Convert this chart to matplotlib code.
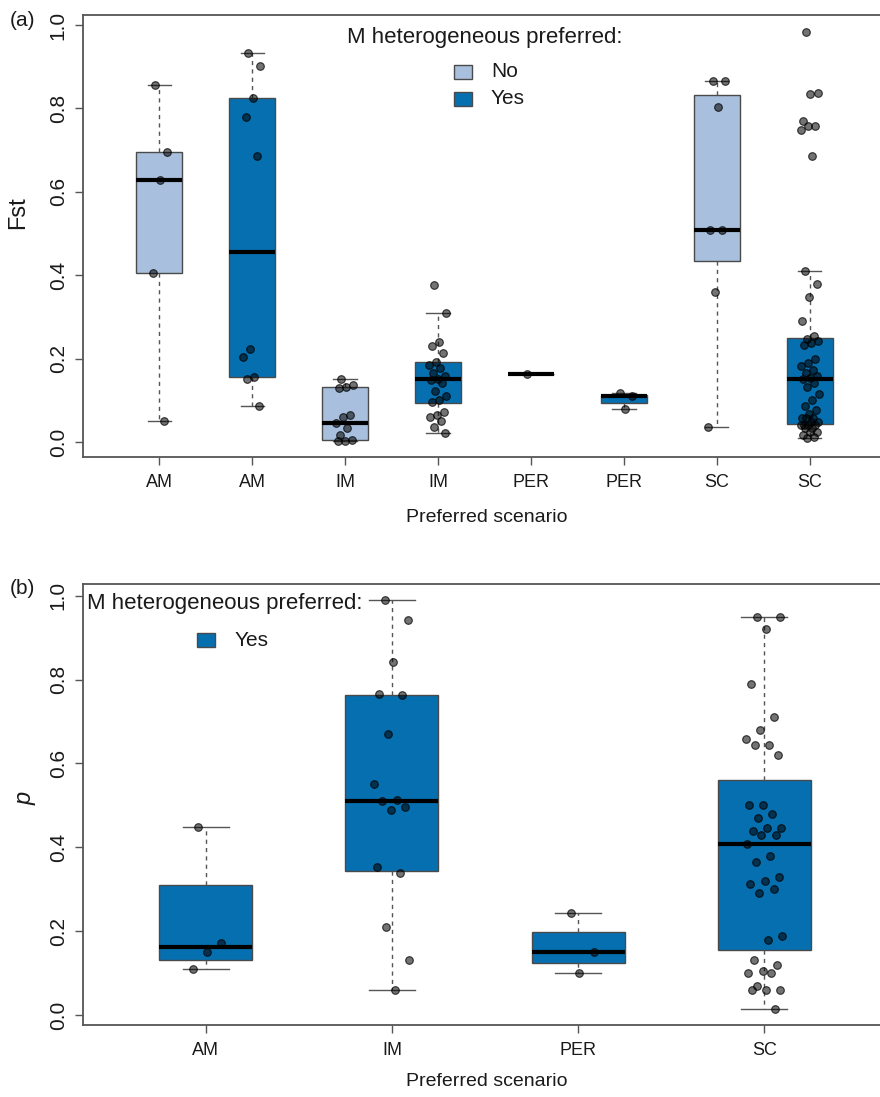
import numpy as np
import matplotlib
matplotlib.use("Agg")
import matplotlib.pyplot as plt
from matplotlib.patches import Rectangle

plt.rcParams['font.family'] = ['Liberation Sans', 'DejaVu Sans']

# Panel (a): Fst per preferred scenario, split by "M heterogeneous preferred"
groupsA = ["AM", "AM", "IM", "IM", "PER", "PER", "SC", "SC"]
hetA = ["No", "Yes", "No", "Yes", "No", "Yes", "No", "Yes"]

fstAmNo = [0.855, 0.696, 0.628, 0.406, 0.050]
fstAmYes = [0.932, 0.902, 0.826, 0.779, 0.687, 0.223, 0.205, 0.156, 0.152, 0.086]
fstImNo = [0.150, 0.137, 0.133, 0.129, 0.065, 0.059, 0.046, 0.034, 0.016, 0.005, 0.003, 0.002]
fstImYes = [0.377, 0.309, 0.239, 0.231, 0.213, 0.193, 0.185, 0.177, 0.165, 0.158, 0.152, 0.148,
            0.141, 0.123, 0.110, 0.100, 0.095, 0.071, 0.065, 0.060, 0.051, 0.037, 0.021]
fstPerNo = [0.162]
fstPerYes = [0.117, 0.110, 0.079]
fstScNo = [0.865, 0.865, 0.803, 0.509, 0.509, 0.359, 0.036]
fstScYes = [0.983, 0.838, 0.835, 0.769, 0.757, 0.757, 0.749, 0.687, 0.411, 0.378, 0.348, 0.290,
            0.254, 0.248, 0.243, 0.238, 0.232, 0.200, 0.189, 0.182, 0.173, 0.166, 0.158, 0.153,
            0.150, 0.141, 0.133, 0.115, 0.101, 0.086, 0.077, 0.066, 0.057, 0.057, 0.057, 0.049,
            0.049, 0.041, 0.041, 0.041, 0.041, 0.033, 0.033, 0.025, 0.025, 0.017, 0.012, 0.009]

# box stats: lower whisker, Q1, median, Q3, upper whisker
whisLoA = [0.050, 0.086, 0.002, 0.021, 0.162, 0.079, 0.036, 0.010]
q1A = [0.406, 0.156, 0.0055, 0.094, 0.162, 0.094, 0.435, 0.042]
medA = [0.628, 0.455, 0.046, 0.150, 0.162, 0.110, 0.509, 0.150]
q3A = [0.696, 0.826, 0.131, 0.191, 0.162, 0.113, 0.833, 0.249]
whisHiA = [0.855, 0.932, 0.150, 0.309, 0.162, 0.117, 0.865, 0.411]

# Panel (b): p, only "Yes"
groupsB = ["AM", "IM", "PER", "SC"]
pAm = [0.449, 0.171, 0.150, 0.110]
pIm = [0.989, 0.942, 0.841, 0.765, 0.763, 0.671, 0.551, 0.512, 0.510, 0.497, 0.489, 0.352,
       0.338, 0.209, 0.130, 0.060]
pPer = [0.244, 0.150, 0.100]
pSc = [0.950, 0.950, 0.920, 0.789, 0.710, 0.680, 0.659, 0.644, 0.644, 0.620, 0.500, 0.500,
       0.480, 0.469, 0.445, 0.445, 0.439, 0.430, 0.430, 0.407, 0.379, 0.366, 0.330, 0.320,
       0.313, 0.300, 0.290, 0.189, 0.179, 0.131, 0.119, 0.106, 0.099, 0.099, 0.070, 0.060,
       0.060, 0.060, 0.014]

whisLoB = [0.110, 0.060, 0.100, 0.014]
q1B = [0.130, 0.344, 0.125, 0.155]
medB = [0.161, 0.511, 0.150, 0.407]
q3B = [0.310, 0.764, 0.197, 0.560]
whisHiB = [0.449, 0.989, 0.244, 0.950]

colNo = "#a8bfdd"
colYes = "#056fb0"
edge = "#4a4a4a"
txt = "#1a1a1a"

W, H = 880, 1097


def fx(px):
    return px / W


def fy(py):
    return 1 - py / H


def drawPanel(ax, points, lo, q1, med, q3, hi, colors):
    stats = []
    for i in range(len(med)):
        stats.append(dict(whislo=lo[i], q1=q1[i], med=med[i], q3=q3[i], whishi=hi[i]))
    pos = np.arange(1, len(med) + 1)
    bp = ax.bxp(stats, positions=pos, widths=0.5, capwidths=0.25, patch_artist=True,
                showfliers=False,
                boxprops=dict(edgecolor=edge, linewidth=1.0),
                whiskerprops=dict(color="#555555", linewidth=1.0, linestyle=(0, (3, 3))),
                capprops=dict(color="#555555", linewidth=1.0),
                medianprops=dict(color="black", linewidth=3.0, solid_capstyle="butt"))
    for patch, c in zip(bp["boxes"], colors):
        patch.set_facecolor(c)
    # jittered points on top
    for i, vals in enumerate(points):
        n = len(vals)
        off = ((np.arange(n) * 0.618034 + 0.3) % 1 - 0.5) * 0.2
        ax.scatter(pos[i] + off, vals, s=30, facecolor=(0, 0, 0, 0.55),
                   edgecolor=(0, 0, 0, 0.75), linewidth=0.8, zorder=3)
    for s in ax.spines.values():
        s.set_color("#555555")
        s.set_linewidth(1.3)
    ax.set_yticks([0.0, 0.2, 0.4, 0.6, 0.8, 1.0])
    ax.set_yticklabels(["0.0", "0.2", "0.4", "0.6", "0.8", "1.0"], rotation=90, va="center")
    ax.tick_params(axis="y", length=6, width=1.0, color="#555555", labelsize=15,
                   labelcolor=txt, pad=5)
    ax.tick_params(axis="x", length=6, width=1.0, color="#555555", labelsize=13,
                   labelcolor=txt, pad=6)
    for lab in ax.get_xticklabels():
        lab.set_family(["Liberation Sans Narrow", "Liberation Sans"])


fig = plt.figure(figsize=(W / 100, H / 100), dpi=100)

# (a)
axA = fig.add_axes([fx(83), fy(457), fx(886) - fx(83), fy(15) - fy(457)])
colorsA = [colNo if h == "No" else colYes for h in hetA]
drawPanel(axA, [fstAmNo, fstAmYes, fstImNo, fstImYes, fstPerNo, fstPerYes, fstScNo, fstScYes],
          whisLoA, q1A, medA, q3A, whisHiA, colorsA)
axA.set_xlim(0.18, 8.82)
axA.set_ylim(-0.036, 1.024)
axA.set_xticks(np.arange(1, len(groupsA) + 1))
axA.set_xticklabels(groupsA, family=["Liberation Sans Narrow", "Liberation Sans"])

fig.text(fx(18), fy(213), "Fst", rotation=90, ha="center", va="center", fontsize=17, color=txt)
fig.text(fx(487), fy(518), "Preferred scenario", ha="center", va="center", fontsize=14,
         color=txt, family=["Liberation Sans Narrow", "Liberation Sans"])
fig.text(fx(22), fy(20), "(a)", ha="center", va="center", fontsize=15, color=txt)

# legend (a)
fig.text(fx(485), fy(37), "M heterogeneous preferred:", ha="center", va="center",
         fontsize=16, color=txt)
for lab, c, yc in [("No", colNo, 71.5), ("Yes", colYes, 99)]:
    fig.patches.append(Rectangle((fx(454), fy(yc + 7)), fx(18), 14 / H, transform=fig.transFigure,
                                 facecolor=c, edgecolor=edge, linewidth=1.0))
    fig.text(fx(491), fy(yc), lab, ha="left", va="center", fontsize=15, color=txt)

# (b)
axB = fig.add_axes([fx(83), fy(1025), fx(887) - fx(83), fy(584) - fy(1025)])
drawPanel(axB, [pAm, pIm, pPer, pSc], whisLoB, q1B, medB, q3B, whisHiB, [colYes] * 4)
axB.set_xlim(0.34, 4.66)
axB.set_ylim(-0.024, 1.028)
axB.set_xticks(np.arange(1, len(groupsB) + 1))
axB.set_xticklabels(groupsB, family=["Liberation Sans Narrow", "Liberation Sans"])

fig.text(fx(25), fy(798), "p", rotation=90, ha="center", va="center", fontsize=17,
         style="italic", color=txt)
fig.text(fx(487), fy(1082), "Preferred scenario", ha="center", va="center", fontsize=14,
         color=txt, family=["Liberation Sans Narrow", "Liberation Sans"])
fig.text(fx(22), fy(588), "(b)", ha="center", va="center", fontsize=15, color=txt)

fig.text(fx(87), fy(603), "M heterogeneous preferred:", ha="left", va="center",
         fontsize=16, color=txt)
fig.patches.append(Rectangle((fx(197), fy(647)), fx(18), 14 / H, transform=fig.transFigure,
                             facecolor=colYes, edgecolor=edge, linewidth=1.0))
fig.text(fx(235), fy(640), "Yes", ha="left", va="center", fontsize=15, color=txt)

fig.savefig("out.png", dpi=100)
